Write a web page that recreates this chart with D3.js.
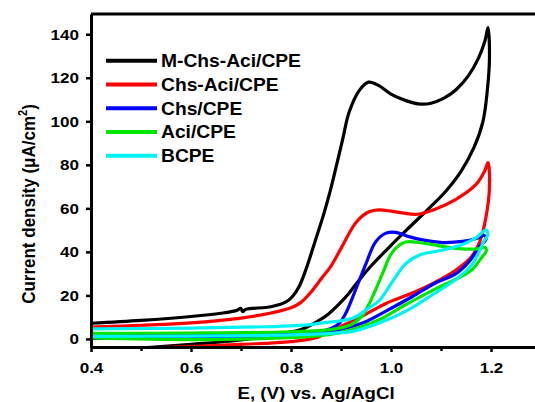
<!DOCTYPE html>
<html>
<head>
<meta charset="utf-8">
<script src="https://cdn.jsdelivr.net/npm/d3@7/dist/d3.min.js"></script>
<style>
  html, body { margin: 0; padding: 0; background: #fff; }
  svg { display: block; }
  text { font-family: "Liberation Sans", Arial, sans-serif; font-weight: bold; fill: #000; }
</style>
</head>
<body>
<svg id="chart" width="535" height="402"></svg>
<script>
// Cyclic voltammograms: forward scan 0.4 -> 1.2 V, then reverse scan back to 0.4 V.
const seriesNames = ["M-Chs-Aci/CPE", "Chs-Aci/CPE", "Chs/CPE", "Aci/CPE", "BCPE"];
const seriesColors = ["#000000", "#ff0000", "#0000ff", "#00e600", "#00f2f2"];

const mChsAciE = [0.40, 0.50, 0.60, 0.66, 0.69, 0.70, 0.703, 0.71, 0.76, 0.79, 0.803, 0.816, 0.83, 0.849, 0.865, 0.879, 0.903, 0.916, 0.936, 0.955, 0.975, 1.0, 1.03, 1.055, 1.08, 1.105, 1.13, 1.155, 1.175, 1.188, 1.194,
                  1.197, 1.193, 1.184, 1.166, 1.14, 1.11, 1.076, 1.04, 1.0, 0.96, 0.936, 0.916, 0.896, 0.875, 0.856, 0.82, 0.765, 0.70, 0.60, 0.50, 0.40];
const mChsAciJ = [7.2, 8.5, 10.3, 11.8, 13.0, 14.0, 12.6, 13.6, 14.8, 17.0, 19.5, 24, 32, 45.5, 57, 68.5, 91.4, 104, 114, 118, 116.5, 112.5, 109.5, 108, 108.3, 110.5, 114.5, 121, 129, 137, 143,
                  130, 115, 100, 88, 77, 68, 60, 52, 43, 33.5, 27, 21, 16, 11.5, 8.5, 4.3, 1.8, -0.5, -2.5, -4.2, -5.5];

const chsAciE = [0.40, 0.50, 0.60, 0.70, 0.76, 0.80, 0.82, 0.84, 0.86, 0.88, 0.902, 0.93, 0.955, 0.978, 1.019, 1.053, 1.087, 1.129, 1.17, 1.187, 1.194,
                 1.197, 1.19, 1.178, 1.16, 1.135, 1.1, 1.05, 0.99, 0.936, 0.9, 0.876, 0.854, 0.80, 0.70, 0.60, 0.50, 0.40];
const chsAciJ = [5.5, 6.3, 7.4, 9.6, 11.9, 14.3, 16.8, 21.5, 27.5, 33.5, 42.4, 53.5, 58.3, 59.3, 58, 57.3, 59.5, 64, 71, 77, 81,
                 70, 56, 45, 37.5, 32.5, 27.5, 21.8, 16.3, 9.7, 5.8, 3.5, 0.8, -1.2, -2.5, -3.5, -4.3, -5.0];

const chsE = [0.40, 0.60, 0.80, 0.86, 0.88, 0.896, 0.91, 0.923, 0.936, 0.949, 0.969, 0.989, 1.009, 1.036, 1.063, 1.103, 1.143, 1.169, 1.186,
              1.19, 1.176, 1.156, 1.13, 1.089, 1.043, 0.989, 0.943, 0.896, 0.856, 0.78, 0.60, 0.40];
const chsJ = [2.2, 2.3, 2.8, 3.5, 4.8, 7, 12, 19, 26.5, 34, 44.5, 48.5, 49, 47, 45.5, 44.3, 44.8, 46, 47.5,
              46, 42, 35.5, 30, 25.7, 19.5, 12.7, 7.3, 4.3, 3.0, 1.5, 0.5, 0.2];

const aciE = [0.40, 0.60, 0.80, 0.88, 0.92, 0.94, 0.956, 0.97, 0.983, 1.003, 1.029, 1.056, 1.096, 1.136, 1.169, 1.189,
              1.19, 1.183, 1.163, 1.143, 1.089, 1.029, 0.976, 0.923, 0.856, 0.75, 0.60, 0.40];
const aciJ = [2.6, 2.7, 3.3, 4.3, 6.5, 10, 16, 23, 30, 40, 44.5, 44.3, 42.8, 41.5, 41.3, 42,
              40, 37.9, 32, 29, 23, 15.7, 8.8, 4.3, 1.5, 0.2, -0.3, 0.5];

const bcpeE = [0.40, 0.60, 0.75, 0.82, 0.86, 0.923, 0.956, 0.976, 1.003, 1.029, 1.056, 1.096, 1.136, 1.169, 1.19,
               1.194, 1.186, 1.176, 1.163, 1.136, 1.083, 1.029, 0.976, 0.923, 0.856, 0.75, 0.60, 0.40];
const bcpeJ = [4.6, 5.0, 5.6, 6.2, 7.3, 9.5, 14.3, 17.5, 26.4, 34.5, 38.5, 40.5, 42.8, 46.3, 50,
               48, 45, 40, 34.5, 28.5, 20.3, 12.7, 7.3, 3.5, 2.3, 1.6, 1.3, 1.2];

const seriesE = [mChsAciE, chsAciE, chsE, aciE, bcpeE];
const seriesJ = [mChsAciJ, chsAciJ, chsJ, aciJ, bcpeJ];

const xMajorTicks = [0.4, 0.6, 0.8, 1.0, 1.2];
const xMinorTicks = [0.5, 0.7, 0.9, 1.1, 1.3];
const yTicks = [0, 20, 40, 60, 80, 100, 120, 140];

// Lettering is drawn slightly wide
const textStretch = 1.1;

const svg = d3.select("#chart");
const plotLeft = 91, plotRight = 591, plotTop = 14, plotBottom = 347;

const x = d3.scaleLinear().domain([0.4, 1.4]).range([plotLeft, plotRight]);
const y = d3.scaleLinear().domain([-3.7, 149.3]).range([plotBottom, plotTop]);

svg.append("defs").append("clipPath").attr("id", "plotClip")
  .append("rect").attr("x", plotLeft).attr("y", plotTop)
  .attr("width", plotRight - plotLeft).attr("height", plotBottom - plotTop);

// Curves
const line = d3.line()
  .x(d => x(d[0]))
  .y(d => y(d[1]))
  .curve(d3.curveCatmullRom.alpha(0.5));

const curves = svg.append("g").attr("clip-path", "url(#plotClip)");
seriesE.forEach((es, i) => {
  const pts = es.map((e, k) => [e, seriesJ[i][k]]);
  curves.append("path")
    .attr("d", line(pts))
    .attr("fill", "none")
    .attr("stroke", seriesColors[i])
    .attr("stroke-width", 3.2)
    .attr("stroke-linejoin", "round")
    .attr("stroke-linecap", "round");
});

// Frame: top border
svg.append("line")
  .attr("x1", plotLeft).attr("x2", plotRight).attr("y1", plotTop).attr("y2", plotTop)
  .attr("stroke", "#000").attr("stroke-width", 3);

// Widen an axis label in place around its own anchor
function stretchTickText(sel) {
  sel.each(function () {
    const t = d3.select(this);
    const tx = +t.attr("x") || 0, ty = +t.attr("y") || 0;
    t.attr("x", 0).attr("y", 0)
      .attr("transform", `translate(${tx},${ty}) scale(${textStretch},1)`);
  });
}

// Bottom axis
const xAxis = svg.append("g").attr("transform", `translate(0,${plotBottom})`)
  .call(d3.axisBottom(x).tickValues(xMajorTicks).tickFormat(d3.format(".1f")).tickSize(5).tickSizeOuter(0).tickPadding(10));
xAxis.select(".domain").attr("stroke-width", 3);
xAxis.selectAll(".tick line").attr("stroke-width", 2.5);
xAxis.selectAll("text").style("font-size", "15.5px").style("font-family", "'Liberation Sans', Arial, sans-serif").style("font-weight", "bold")
  .call(stretchTickText);

const xMinor = svg.append("g").attr("transform", `translate(0,${plotBottom})`)
  .call(d3.axisBottom(x).tickValues(xMinorTicks).tickFormat("").tickSize(4).tickSizeOuter(0));
xMinor.select(".domain").remove();
xMinor.selectAll(".tick line").attr("stroke-width", 2.5);

// Left axis
const yAxis = svg.append("g").attr("transform", `translate(${plotLeft},0)`)
  .call(d3.axisLeft(y).tickValues(yTicks).tickSize(5).tickSizeOuter(0).tickPadding(7));
yAxis.select(".domain").attr("stroke-width", 3);
yAxis.selectAll(".tick line").attr("stroke-width", 2.5);
yAxis.selectAll("text").style("font-size", "15.5px").style("font-family", "'Liberation Sans', Arial, sans-serif").style("font-weight", "bold")
  .call(stretchTickText);

// Axis titles
svg.append("text")
  .attr("transform", `translate(316,399) scale(${textStretch},1)`)
  .attr("text-anchor", "middle")
  .style("font-size", "17px")
  .text("E, (V) vs. Ag/AgCl");

const yTitle = svg.append("text")
  .attr("transform", `translate(35,204) rotate(-90) scale(1,${textStretch})`)
  .attr("text-anchor", "middle")
  .style("font-size", "17px");
yTitle.append("tspan").text("Current density (\u03bcA/cm");
yTitle.append("tspan").attr("dy", -7).style("font-size", "11px").text("2");
yTitle.append("tspan").attr("dy", 7).text(")");

// Legend
const legend = svg.append("g");
seriesNames.forEach((name, i) => {
  const ly = 60.7 + i * 23.75;
  legend.append("line")
    .attr("x1", 106).attr("x2", 157).attr("y1", ly).attr("y2", ly)
    .attr("stroke", seriesColors[i]).attr("stroke-width", 4);
  legend.append("text")
    .attr("transform", `translate(161,${ly}) scale(${textStretch},1)`)
    .attr("dy", "0.36em")
    .style("font-size", "17.5px")
    .text(name);
});
</script>
</body>
</html>
